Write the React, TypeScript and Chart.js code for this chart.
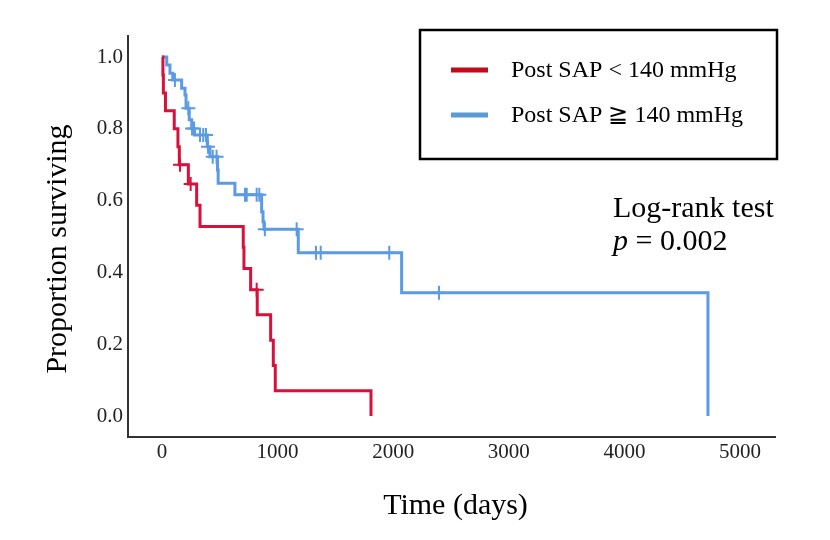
import { useEffect, useRef } from "react";
import { Chart, registerables } from "chart.js";

Chart.register(...registerables);

// Kaplan–Meier survival by post-treatment systolic pressure group
const groupLabels = ["Post SAP < 140 mmHg", "Post SAP ≧ 140 mmHg"];

// Group 1: event days and survival proportion after each event
const lowEventDays = [8, 12, 30, 106, 138, 150, 228, 300, 329, 703, 709, 767, 824, 940, 963, 980, 1808];
const lowSurvival = [0.95, 0.9, 0.85, 0.8, 0.75, 0.7, 0.646, 0.587, 0.528, 0.47, 0.411, 0.352, 0.282, 0.211, 0.141, 0.07, 0];
const lowCensorDays = [156, 248, 819];

// Group 2
const highEventDays = [41, 69, 93, 170, 199, 208, 236, 257, 281, 392, 415, 480, 486, 631, 862, 874, 882, 1179, 2073, 4723];
const highSurvival = [0.978, 0.955, 0.936, 0.913, 0.894, 0.857, 0.825, 0.801, 0.783, 0.75, 0.722, 0.685, 0.648, 0.616, 0.569, 0.541, 0.52, 0.455, 0.343, 0];
const highCensorDays = [112, 228, 260, 277, 329, 357, 381, 398, 439, 472, 718, 733, 819, 842, 890, 1165, 1332, 1373, 1966, 2396];

const xTickValues = [0, 1000, 2000, 3000, 4000, 5000];
const yTickValues = [0, 0.2, 0.4, 0.6, 0.8, 1.0];

const xTitle = "Time (days)";
const yTitle = "Proportion surviving";
const testName = "Log-rank test";
const pValueText = "0.002";

const RED = "#d7103c";
const BLUE = "#5b9be3";
const SERIF = '"Liberation Serif", "Times New Roman", "DejaVu Serif", serif';

function stepCurve(days: number[], surv: number[]) {
  return [{ x: 0, y: 1 }, ...days.map((d, i) => ({ x: d, y: surv[i] }))];
}

function censorMarks(censor: number[], days: number[], surv: number[]) {
  return censor.map((c) => {
    let s = 1;
    days.forEach((d, i) => {
      if (d <= c) s = surv[i];
    });
    return { x: c, y: s };
  });
}

const overlayPlugin = {
  id: "kmOverlay",
  afterDraw(chart: any) {
    const ctx = chart.ctx as CanvasRenderingContext2D;
    const area = chart.chartArea;
    ctx.save();

    // axis titles
    ctx.fillStyle = "#000";
    ctx.font = `30px ${SERIF}`;
    ctx.textAlign = "center";
    ctx.textBaseline = "middle";
    ctx.fillText(xTitle, (area.left + area.right) / 2 + 4, 506);
    ctx.save();
    ctx.translate(58, 249);
    ctx.rotate(-Math.PI / 2);
    ctx.fillText(yTitle, 0, 0);
    ctx.restore();

    // legend box
    ctx.strokeStyle = "#000";
    ctx.lineWidth = 2.5;
    ctx.strokeRect(420, 30, 357, 129);
    const colors = ["#c40a1a", "#5b9bd5"];
    const rows = [70, 115];
    ctx.font = `24px ${SERIF}`;
    ctx.textAlign = "left";
    rows.forEach((y, i) => {
      ctx.strokeStyle = colors[i];
      ctx.lineWidth = 5;
      ctx.beginPath();
      ctx.moveTo(451, y);
      ctx.lineTo(488, y);
      ctx.stroke();
      ctx.fillStyle = "#000";
      ctx.fillText(chart.data.datasets[i].label, 511, y + 1);
    });

    // test annotation
    ctx.textBaseline = "alphabetic";
    ctx.font = `30px ${SERIF}`;
    ctx.fillText(testName, 613, 217);
    ctx.font = `italic 30px ${SERIF}`;
    ctx.fillText("p", 613, 250);
    const pw = ctx.measureText("p").width;
    ctx.font = `30px ${SERIF}`;
    ctx.fillText(` = ${pValueText}`, 613 + pw, 250);

    ctx.restore();
  },
};

export default function App() {
  const canvasRef = useRef<HTMLCanvasElement | null>(null);

  useEffect(() => {
    if (!canvasRef.current) return;
    const tickFont = { family: SERIF, size: 21 };
    const chart = new Chart(canvasRef.current, {
      type: "line",
      data: {
        datasets: [
          {
            label: groupLabels[0],
            data: stepCurve(lowEventDays, lowSurvival),
            stepped: "before",
            borderColor: RED,
            borderWidth: 3,
            pointRadius: 0,
            fill: false,
          },
          {
            label: groupLabels[1],
            data: stepCurve(highEventDays, highSurvival),
            stepped: "before",
            borderColor: BLUE,
            borderWidth: 3,
            pointRadius: 0,
            fill: false,
          },
          {
            label: "censored 1",
            data: censorMarks(lowCensorDays, lowEventDays, lowSurvival),
            showLine: false,
            pointStyle: "cross",
            pointRadius: 7,
            pointBorderWidth: 2,
            borderColor: RED,
            pointBorderColor: RED,
          },
          {
            label: "censored 2",
            data: censorMarks(highCensorDays, highEventDays, highSurvival),
            showLine: false,
            pointStyle: "cross",
            pointRadius: 7,
            pointBorderWidth: 2,
            borderColor: BLUE,
            pointBorderColor: BLUE,
          },
        ],
      },
      options: {
        animation: false,
        responsive: false,
        maintainAspectRatio: false,
        layout: { padding: { top: 36, right: 55, left: 0, bottom: 0 } },
        plugins: { legend: { display: false }, tooltip: { enabled: false } },
        scales: {
          x: {
            type: "linear",
            min: -294,
            max: 5303,
            grid: { display: false, drawTicks: false },
            border: { display: true, color: "#333", width: 2 },
            ticks: {
              font: tickFont,
              color: "#222",
              padding: 3,
              callback: (v: any) => String(v),
            },
            afterBuildTicks: (s: any) => {
              s.ticks = xTickValues.map((v) => ({ value: v }));
            },
            afterFit: (s: any) => {
              s.height = 103;
            },
          },
          y: {
            type: "linear",
            min: -0.0585,
            max: 1.0585,
            grid: { display: false, drawTicks: false },
            border: { display: true, color: "#333", width: 2 },
            ticks: {
              font: tickFont,
              color: "#222",
              padding: 5,
              callback: (v: any) => Number(v).toFixed(1),
            },
            afterBuildTicks: (s: any) => {
              s.ticks = yTickValues.map((v) => ({ value: v }));
            },
            afterFit: (s: any) => {
              s.width = 128;
            },
          },
        },
      },
      plugins: [overlayPlugin],
    } as any);
    return () => chart.destroy();
  }, []);

  return (
    <div style={{ position: "fixed", left: 0, top: 0, width: 830, height: 540, background: "#fff" }}>
      <canvas ref={canvasRef} width={830} height={540} style={{ width: 830, height: 540 }} />
    </div>
  );
}
